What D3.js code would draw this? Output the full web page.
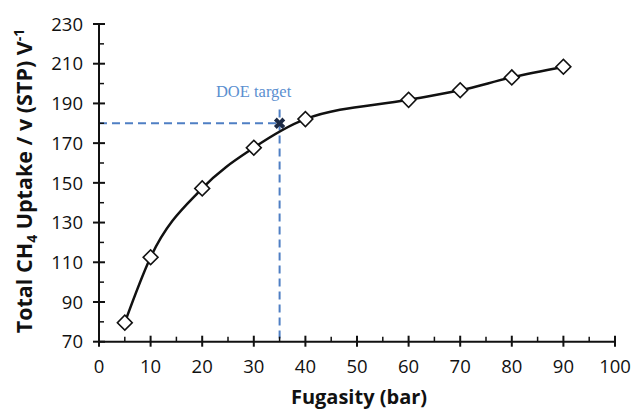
<!DOCTYPE html>
<html>
<head>
<meta charset="utf-8">
<script src="https://cdn.jsdelivr.net/npm/d3@7"></script>
<style>
  html, body { margin: 0; padding: 0; background: #fff; }
  svg { display: block; }
</style>
</head>
<body>
<svg id="chart" width="634" height="411"></svg>
<script>
// Methane uptake vs. fugacity
const fugacity = [5, 10, 20, 30, 40, 60, 70, 80, 90];
const uptake   = [79.6, 112.5, 147.2, 167.7, 182.1, 191.8, 196.6, 203.1, 208.5];

const doeTarget = { fugacity: 35, uptake: 180, lineTop: 187 };
const xTicks = [0, 10, 20, 30, 40, 50, 60, 70, 80, 90, 100];
const yTicks = [70, 90, 110, 130, 150, 170, 190, 210, 230];

const svg = d3.select("#chart");
const x = d3.scaleLinear().domain([0, 100]).range([99, 615]);
const y = d3.scaleLinear().domain([70, 230]).range([341.7, 24]);

const uiFont = "'Open Sans', Lato, sans-serif";

// DOE target reference lines
const blue = "#4f7fc4";
svg.append("line")
  .attr("x1", x(0)).attr("x2", x(doeTarget.fugacity))
  .attr("y1", y(doeTarget.uptake)).attr("y2", y(doeTarget.uptake))
  .attr("stroke", blue).attr("stroke-width", 2).attr("stroke-dasharray", "8,5");
svg.append("line")
  .attr("x1", x(doeTarget.fugacity)).attr("x2", x(doeTarget.fugacity))
  .attr("y1", y(doeTarget.lineTop)).attr("y2", y(70))
  .attr("stroke", blue).attr("stroke-width", 2).attr("stroke-dasharray", "8,5");
svg.append("text")
  .attr("x", x(doeTarget.fugacity) - 26).attr("y", 97)
  .attr("text-anchor", "middle")
  .attr("font-family", "'Liberation Serif', 'DejaVu Serif', serif")
  .attr("font-size", 16.5).attr("fill", "#5b8fd0")
  .text("DOE target");

// x axis with major (crossing) and minor (inside) ticks
const xAxisG = svg.append("g");
xAxisG.append("line")
  .attr("x1", x(0)).attr("x2", x(100)).attr("y1", y(70)).attr("y2", y(70))
  .attr("stroke", "#111").attr("stroke-width", 2);
xAxisG.selectAll(".xmaj").data(xTicks).join("line")
  .attr("x1", d => x(d)).attr("x2", d => x(d))
  .attr("y1", y(70) - 6).attr("y2", y(70) + 5)
  .attr("stroke", "#111").attr("stroke-width", 2);
xAxisG.selectAll(".xmin").data(d3.range(5, 100, 10)).join("line")
  .attr("x1", d => x(d)).attr("x2", d => x(d))
  .attr("y1", y(70) - 5).attr("y2", y(70))
  .attr("stroke", "#111").attr("stroke-width", 1.5);
xAxisG.selectAll("text").data(xTicks).join("text")
  .attr("x", d => x(d)).attr("y", 373)
  .attr("text-anchor", "middle")
  .attr("font-family", uiFont).attr("font-size", 18.5).attr("fill", "#111")
  .text(d => d);

// y axis
const yAxisG = svg.append("g");
yAxisG.append("line")
  .attr("x1", x(0)).attr("x2", x(0)).attr("y1", y(230)).attr("y2", y(70))
  .attr("stroke", "#111").attr("stroke-width", 2);
yAxisG.selectAll(".ymaj").data(yTicks).join("line")
  .attr("x1", x(0) - 6).attr("x2", x(0) + 6)
  .attr("y1", d => y(d)).attr("y2", d => y(d))
  .attr("stroke", "#111").attr("stroke-width", 2);
yAxisG.selectAll(".ymin").data(d3.range(80, 230, 20)).join("line")
  .attr("x1", x(0)).attr("x2", x(0) + 5)
  .attr("y1", d => y(d)).attr("y2", d => y(d))
  .attr("stroke", "#111").attr("stroke-width", 1.5);
yAxisG.selectAll("text").data(yTicks).join("text")
  .attr("x", 83).attr("y", d => y(d)).attr("dy", "0.36em")
  .attr("text-anchor", "end")
  .attr("font-family", uiFont).attr("font-size", 18.5).attr("fill", "#111")
  .text(d => d);

// Axis titles
svg.append("text")
  .attr("x", 359).attr("y", 404)
  .attr("text-anchor", "middle")
  .attr("font-family", uiFont).attr("font-weight", "bold")
  .attr("font-size", 20).attr("fill", "#111")
  .text("Fugasity (bar)");

const yTitle = svg.append("text")
  .attr("transform", "translate(32,181) rotate(-90)")
  .attr("text-anchor", "middle")
  .attr("font-family", uiFont).attr("font-weight", "bold")
  .attr("font-size", 21.5).attr("fill", "#111");
yTitle.append("tspan").text("Total CH");
yTitle.append("tspan").attr("font-size", 14).attr("dy", 5).text("4");
yTitle.append("tspan").attr("dy", -5).text(" Uptake / v (STP) V");
yTitle.append("tspan").attr("font-size", 14).attr("dy", -8).text("-1");

// Smoothed uptake curve
const pts = fugacity.map((f, i) => [f, uptake[i]]);
const line = d3.line().x(d => x(d[0])).y(d => y(d[1])).curve(d3.curveMonotoneX);
svg.append("path")
  .datum(pts)
  .attr("d", line)
  .attr("fill", "none").attr("stroke", "#111").attr("stroke-width", 2.5);

// Diamond markers
const diamond = d3.symbol().type(d3.symbolSquare).size(110);
svg.selectAll(".pt").data(pts).join("path")
  .attr("d", diamond)
  .attr("transform", d => `translate(${x(d[0])},${y(d[1])}) rotate(45)`)
  .attr("fill", "#fff").attr("stroke", "#111").attr("stroke-width", 1.6);

// DOE target marker
svg.append("path")
  .attr("d", d3.symbol().type(d3.symbolCross).size(80))
  .attr("transform", `translate(${x(doeTarget.fugacity)},${y(doeTarget.uptake)}) rotate(45)`)
  .attr("fill", "#1c2a45");
</script>
</body>
</html>
